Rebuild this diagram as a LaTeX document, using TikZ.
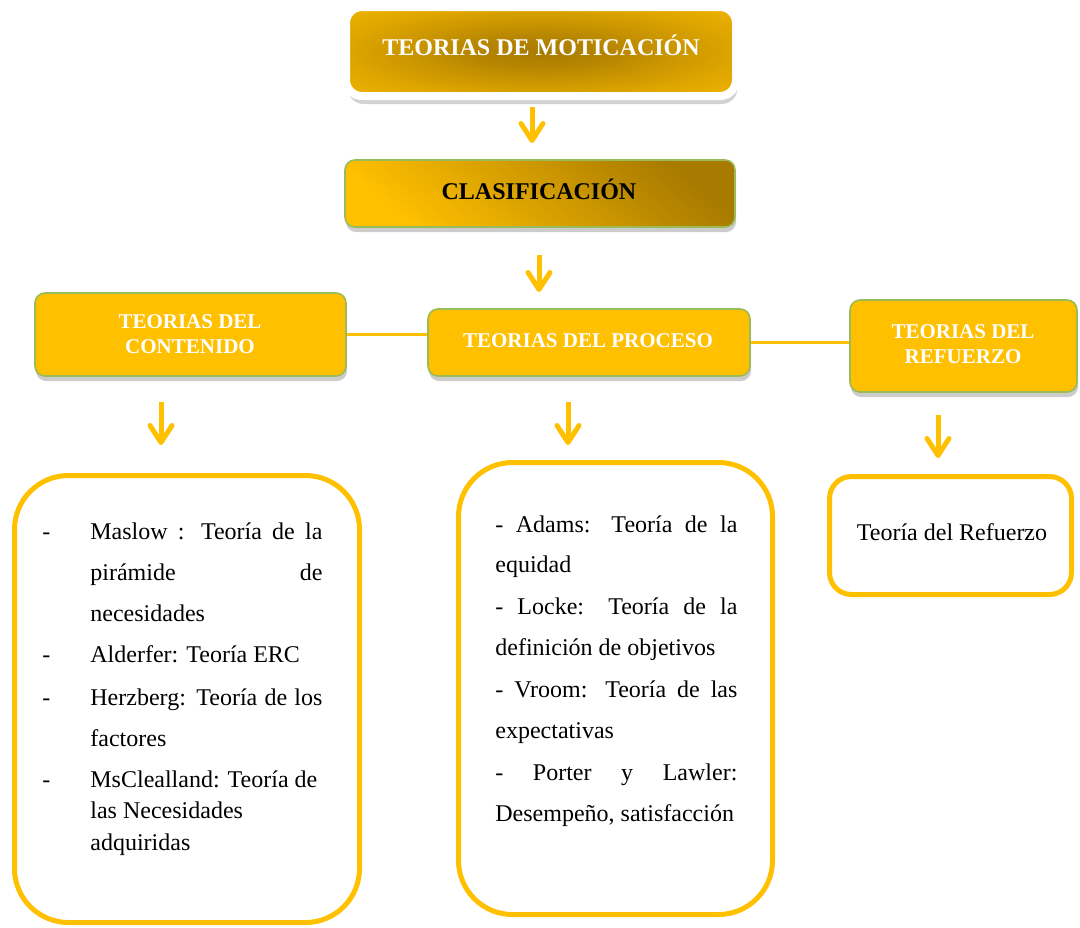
\documentclass[tikz,border=0pt]{standalone}
\usepackage{fontspec}
\setmainfont{Liberation Serif}
\usetikzlibrary{arrows.meta,shadows}

\definecolor{oro}{HTML}{FFC000}
\definecolor{oroosc}{HTML}{A87A00}
\definecolor{verdeborde}{HTML}{9BBB59}

\pgfdeclareradialshading{brillo}{\pgfpoint{0bp}{0bp}}{%
  color(0bp)=(oroosc); color(8bp)=(oroosc!85!oro); color(25bp)=(oro!62!oroosc);
  color(40bp)=(oro!90!oroosc); color(50bp)=(oro)}

\tikzset{
  caja/.style={rectangle, rounded corners=5pt, fill=oro, draw=verdeborde, line width=0.8pt,
    drop shadow={opacity=0.4, shadow xshift=0.5pt, shadow yshift=-2.5pt}},
  lista/.style={rectangle, draw=oro, line width=2.5pt},
  flecha/.style={draw=oro, line width=2.5pt, -{Straight Barb[length=8.5pt,width=11pt,round]}},
  titulo/.style={anchor=base, inner sep=0pt, align=center, text=white, font=\bfseries\fontsize{10.5}{12.5}\selectfont},
  linea/.style={anchor=base west, inner sep=0pt, font=\fontsize{12}{14}\selectfont},
}

\begin{document}
\begin{tikzpicture}[x=0.5pt,y=-0.5pt]
\useasboundingbox (0,0) rectangle (1080,927);

% cajas de arriba
\node[rectangle, rounded corners=8pt, draw=white, line width=4pt, shading=brillo,
  minimum width=195pt, minimum height=44.5pt,
  drop shadow={opacity=0.35, shadow xshift=0.8pt, shadow yshift=-4pt}] (motiv) at (541,51.5) {};
\node[caja, shading=axis, top color=oroosc, bottom color=oro, shading angle=-40,
  minimum width=195pt, minimum height=33.5pt] (clas) at (540,193.5) {};

\node[anchor=base, inner sep=0pt, text=white, font=\bfseries\fontsize{12}{14}\selectfont] (motivt) at (541,55) {TEORIAS DE MOTICACIÓN};
\node[anchor=base, inner sep=0pt, font=\bfseries\fontsize{12}{14}\selectfont] (clast) at (539,199) {CLASIFICACIÓN};

% tipos de teorias
\node[caja, minimum width=155.5pt, minimum height=41.5pt] (contenido) at (190.5,334.5) {};
\node[caja, minimum width=161pt, minimum height=33.5pt] (proceso) at (589,342.5) {};
\node[caja, minimum width=113.5pt, minimum height=46pt] (refuerzo) at (963.5,346) {};

\draw[oro, line width=1.2pt] (contenido.east) -- (contenido.east -| proceso.west);
\draw[oro, line width=1.2pt] (proceso.east) -- (proceso.east -| refuerzo.west);

\node[titulo] (contenidot) at (190,353) {TEORIAS DEL\\CONTENIDO};
\node[titulo] (procesot) at (588,347) {TEORIAS DEL PROCESO};
\node[titulo] (refuerzot) at (963,363) {TEORIAS DEL\\REFUERZO};

% flechas
\coordinate (f1a) at (532,107);  \coordinate (f1b) at (532,143);
\coordinate (f2a) at (539,255);  \coordinate (f2b) at (539,292);
\coordinate (f3a) at (161,402);  \coordinate (f3b) at (161,445);
\coordinate (f4a) at (568,402);  \coordinate (f4b) at (568,445);
\coordinate (f5a) at (938,415);  \coordinate (f5b) at (938,458);
\draw[flecha] (f1a) -- (f1b);
\draw[flecha] (f2a) -- (f2b);
\draw[flecha] (f3a) -- (f3b);
\draw[flecha] (f4a) -- (f4b);
\draw[flecha] (f5a) -- (f5b);

% cajas de abajo
\node[lista, rounded corners=27pt, minimum width=172.5pt, minimum height=223.5pt] (izq) at (187,699) {};
\node[lista, rounded corners=27pt, minimum width=157pt, minimum height=226pt] (centro) at (615.5,688.5) {};
\node[lista, rounded corners=11pt, minimum width=121pt, minimum height=59pt] (der) at (950.5,535.5) {};

\node[linea] (g1) at (42,539) {-};
\node[linea] (g2) at (42,662) {-};
\node[linea] (g3) at (42,705) {-};
\node[linea] (g4) at (42,787) {-};

\node[linea] (m1) at (90,539) {\makebox[116pt][s]{Maslow : Teoría de la}};
\node[linea] (m2) at (90,580) {\makebox[116pt][s]{pirámide de}};
\node[linea] (m3) at (90,621) {necesidades};
\node[linea] (m4) at (90,662) {Alderfer: Teoría ERC};
\node[linea] (m5) at (90,705) {\makebox[116pt][s]{Herzberg: Teoría de los}};
\node[linea] (m6) at (90,746) {factores};
\node[linea] (m7) at (90,787) {MsClealland: Teoría de};
\node[linea] (m8) at (90,818) {las Necesidades};
\node[linea] (m9) at (90,850) {adquiridas};

\node[linea] (p1) at (495,532) {\makebox[121pt][s]{- Adams: Teoría de la}};
\node[linea] (p2) at (495,572) {equidad};
\node[linea] (p3) at (495,614) {\makebox[121pt][s]{- Locke: Teoría de la}};
\node[linea] (p4) at (495,655) {definición de objetivos};
\node[linea] (p5) at (495,697) {\makebox[121pt][s]{- Vroom: Teoría de las}};
\node[linea] (p6) at (495,738) {expectativas};
\node[linea] (p7) at (495,780) {\makebox[121pt][s]{- Porter y Lawler:}};
\node[linea] (p8) at (495,821) {Desempeño, satisfacción};

\node[linea, anchor=base] (r1) at (952,540) {Teoría del Refuerzo};
\end{tikzpicture}
\end{document}
